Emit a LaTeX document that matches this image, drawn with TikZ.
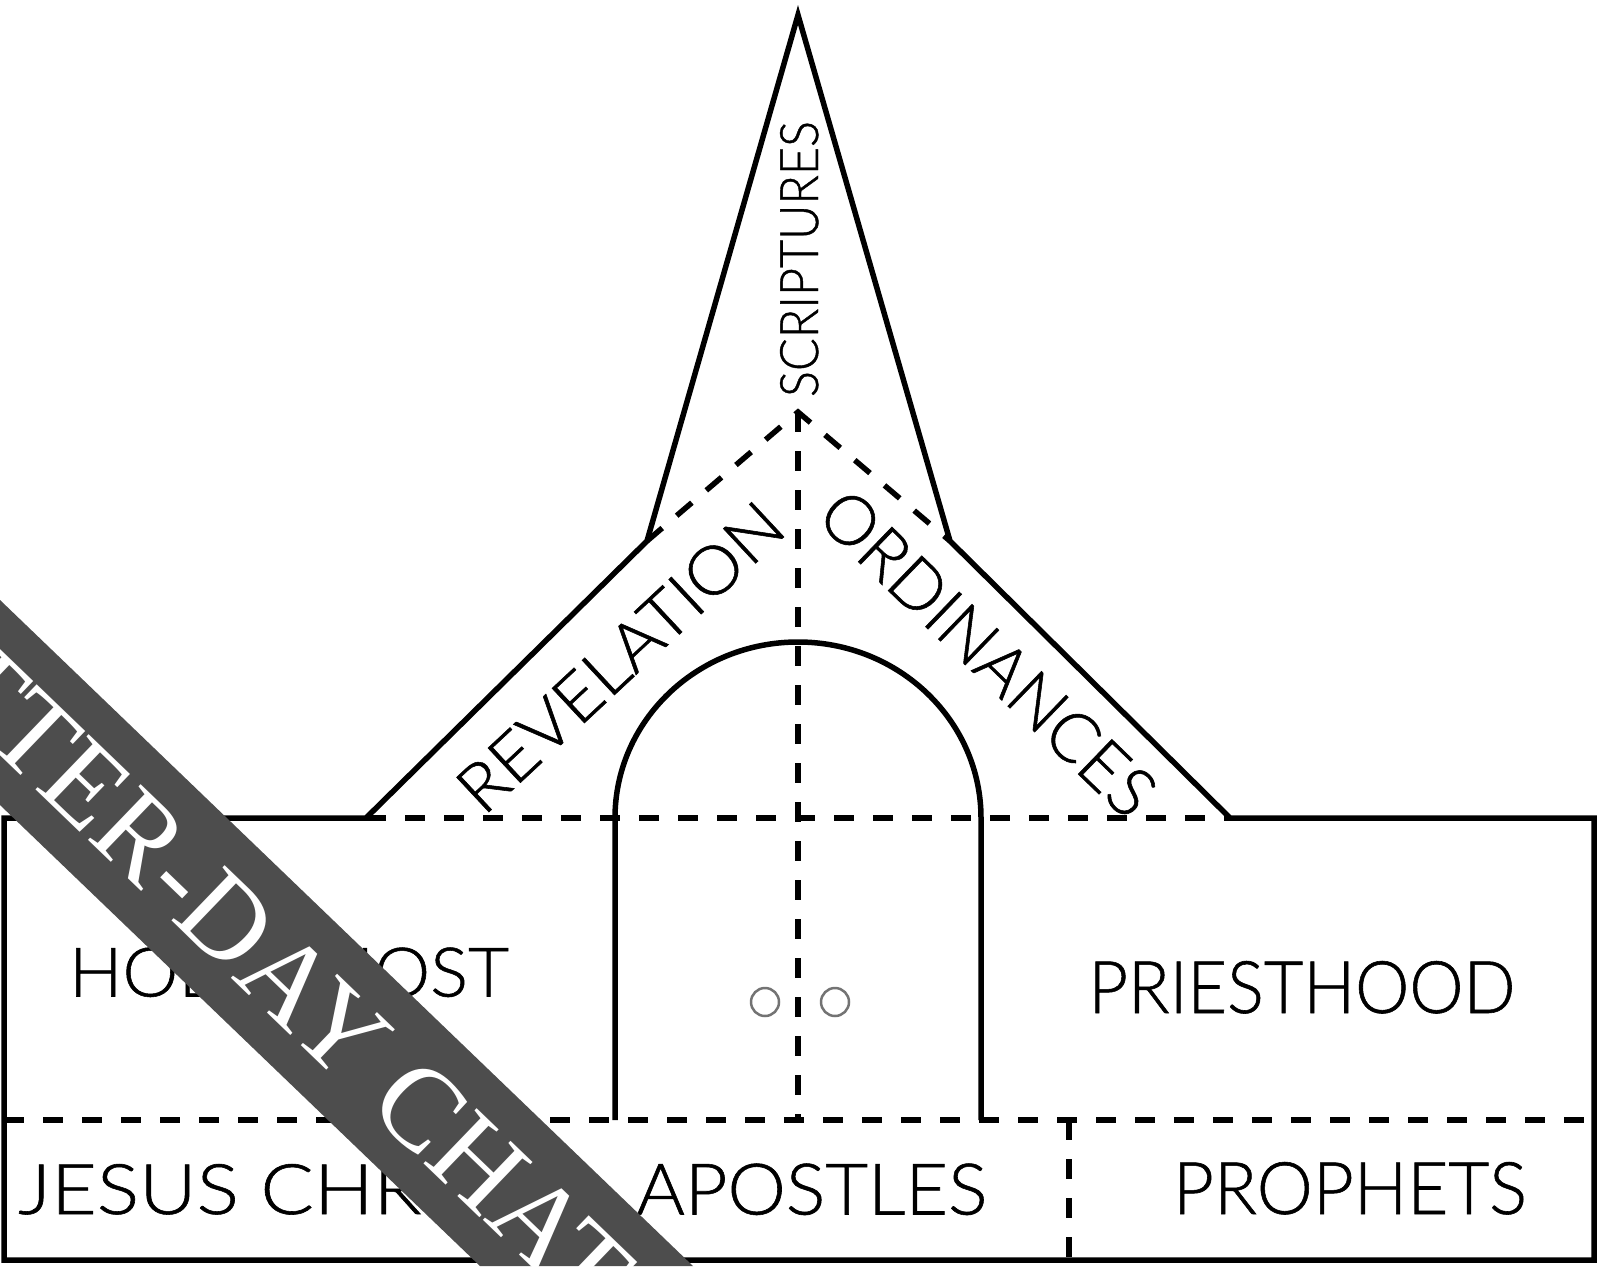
\documentclass[tikz,border=0pt]{standalone}
\usepackage{graphicx}
\usepackage{fontspec}
\newfontfamily\lblfont{Lato Light}[FakeBold=0.8]
\newfontfamily\bandfont{Liberation Serif}
\definecolor{band}{HTML}{4D4D4D}
\newcommand\Lbl[3]{\resizebox{#1pt}{#2pt}{\lblfont\fontsize{60}{60}\selectfont #3}}
\tikzset{
  outline/.style={line width=5.5pt, line join=miter, black},
  fold/.style={line width=5.5pt, dash pattern=on 20pt off 19pt, black},
  knob/.style={draw=black!55, line width=2.5pt},
  lbl/.style={inner sep=0pt, text depth=0pt}
}
\begin{document}
\begin{tikzpicture}[x=1pt,y=-1pt]
\fill[white] (0,0) rectangle (1600,1266);
\useasboundingbox (0,0) rectangle (1600,1266);
% key points
\coordinate (apex) at (798,15);
\coordinate (sbl) at (647,541);
\coordinate (sbr) at (950,541);
\coordinate (rl) at (366,818);
\coordinate (rr) at (1230,818);
\coordinate (tl) at (4,818);
\coordinate (tr) at (1594,818);
\coordinate (bl) at (4,1260);
\coordinate (br) at (1594,1260);
\coordinate (iapex) at (798,412);
\coordinate (cbot) at (798,1120);
\coordinate (fl) at (4,1120);
\coordinate (fr) at (1594,1120);
\coordinate (vt) at (1069,1120);
\coordinate (vb) at (1069,1260);
\coordinate (al) at (615,1120);
\coordinate (ar) at (981,1120);
% fold lines
\draw[fold] (rl) -- (rr);
\draw[fold] (sbl) -- (iapex) -- (sbr);
\draw[fold] (iapex) -- (cbot);
\draw[fold] (fl) -- (fr);
\draw[fold] (vt) -- (vb);
% outline
\draw[outline] (tl) -- (rl) -- (sbl) -- (apex) -- (sbr) -- (rr) -- (tr) -- (br) -- (bl) -- cycle;
% door
\draw[outline] (al) -- (615,818) arc[start angle=180, end angle=0, x radius=183pt, y radius=176pt] -- (ar);
\draw[knob] (765,1002) circle[radius=14pt];
\draw[knob] (835,1002) circle[radius=14pt];
% labels
\node[lbl, text height=38pt, rotate=90] (scr) at (799,259) {\Lbl{276}{38}{SCRIPTURES}};
\node[lbl, text height=48pt, rotate=43] (rev) at (620,657) {\Lbl{418}{48}{REVELATION}};
\node[lbl, text height=49pt, rotate=-44] (ord) at (988,653) {\Lbl{436}{49}{ORDINANCES}};
\node[lbl, text height=49pt] (hg) at (289,972) {\Lbl{440}{49}{HOLY GHOST}};
\node[lbl, text height=52pt] (pr) at (1302,987) {\Lbl{427}{52}{PRIESTHOOD}};
\node[lbl, text height=50pt, anchor=west] (jc) at (18,1189) {\Lbl{512}{50}{JESUS CHRIST}};
\node[lbl, text height=51pt] (ap) at (812,1189) {\Lbl{351}{51}{APOSTLES}};
\node[lbl, text height=52pt] (ph) at (1350,1188) {\Lbl{354}{52}{PROPHETS}};
% watermark band
\fill[band] (0,600) -- (693,1266) -- (480,1266) -- (0,805) -- cycle;
\begin{scope}
\clip (0,0) rectangle (1600,1266);
\node[text=white, inner sep=0pt, text height=77.5pt, text depth=0pt, rotate=-43.9,
      font=\bandfont\fontsize{117}{117}\selectfont] (wm) at (285,976) {TTER-DAY CHAT};
\end{scope}
\end{tikzpicture}
\end{document}
